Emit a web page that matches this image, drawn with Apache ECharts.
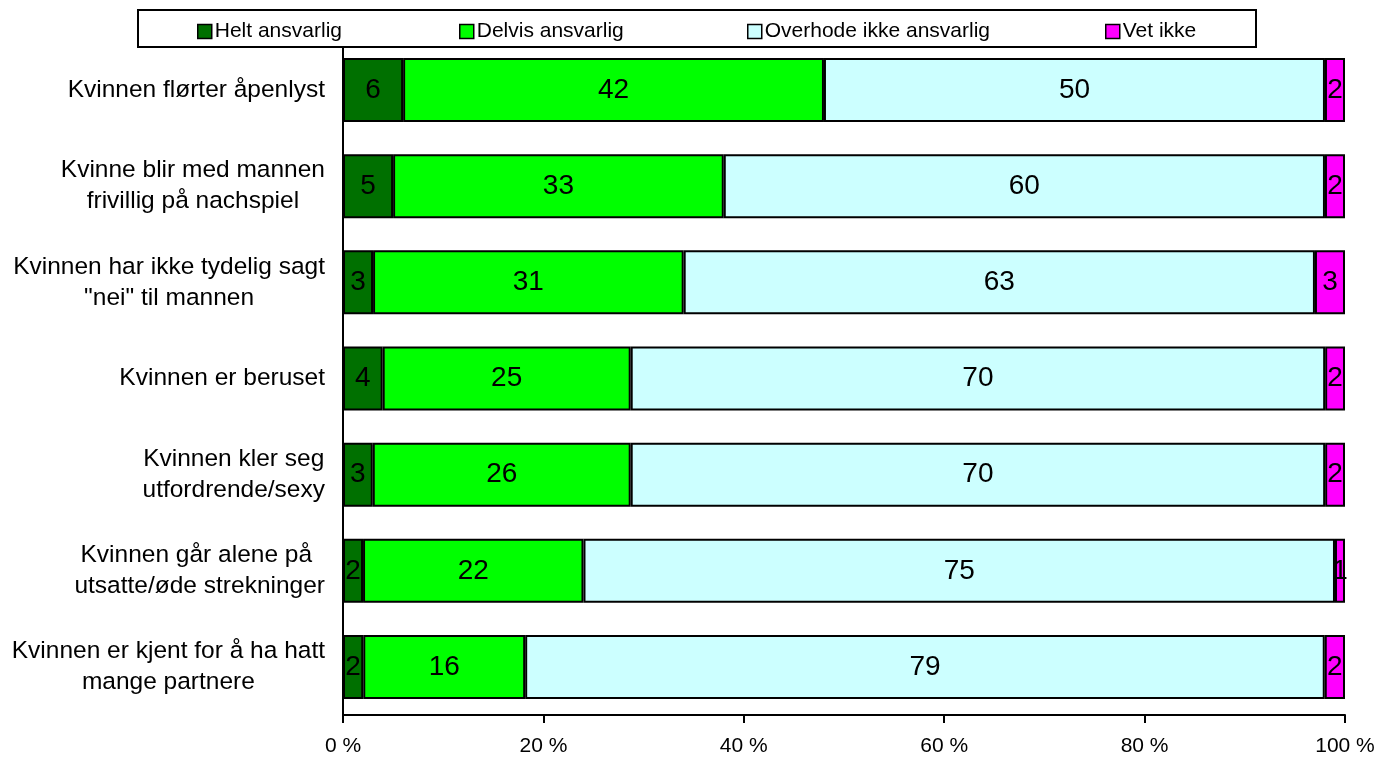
<!DOCTYPE html>
<html>
<head>
<meta charset="utf-8">
<script src="https://cdn.jsdelivr.net/npm/echarts@6/dist/echarts.min.js"></script>
<style>
html,body{margin:0;padding:0;background:#fff;}
#c{width:1380px;height:761px;}
</style>
</head>
<body>
<div id="c"></div>
<script>
const categories = [
  'Kvinnen flørter åpenlyst',
  'Kvinne blir med mannen\nfrivillig på nachspiel',
  'Kvinnen har ikke tydelig sagt\n"nei" til mannen',
  'Kvinnen er beruset',
  'Kvinnen kler seg\nutfordrende/sexy',
  'Kvinnen går alene på \nutsatte/øde strekninger',
  'Kvinnen er kjent for å ha hatt\nmange partnere'
];
const seriesNames = ['Helt ansvarlig', 'Delvis ansvarlig', 'Overhode ikke ansvarlig', 'Vet ikke'];
const helt = [6, 5, 3, 4, 3, 2, 2];
const delvis = [42, 33, 31, 25, 26, 22, 16];
const overhode = [50, 60, 63, 70, 70, 75, 79];
const vetIkke = [2, 2, 3, 2, 2, 1, 2];
const xTicks = [0, 20, 40, 60, 80, 100];
const colors = ['#007000', '#00ff00', '#ccffff', '#ff00ff'];

const raw = [helt, delvis, overhode, vetIkke];
const totals = categories.map((_, i) => raw.reduce((s, arr) => s + arr[i], 0));

const chart = echarts.init(document.getElementById('c'), null, {renderer: 'canvas'});
const FONT = 'Liberation Sans, Arial, sans-serif';

const series = raw.map((arr, k) => ({
  name: seriesNames[k],
  type: 'bar',
  stack: 'total',
  barWidth: 64,
  itemStyle: {color: colors[k], borderColor: '#000', borderWidth: 2},
  label: {
    show: true,
    position: 'inside',
    color: '#000',
    fontFamily: FONT,
    fontSize: 28,
    formatter: p => String(arr[p.dataIndex])
  },
  emphasis: {disabled: true},
  data: arr.map((v, i) => v / totals[i] * 100)
}));

const legendLeft = [197, 459, 747, 1105];
const legends = seriesNames.map((n, k) => ({
  data: [n],
  left: legendLeft[k],
  top: 21,
  padding: 0,
  itemWidth: 14,
  itemHeight: 14,
  itemGap: 0,
  z: 20,
  selectedMode: false,
  icon: 'rect',
  itemStyle: {borderColor: '#000', borderWidth: 1.5},
  textStyle: {fontFamily: FONT, fontSize: 21, color: '#000', padding: [0, 0, 0, -2]}
}));

function labelRich(v) {
  return v.split('\n').map(s => '{c|' + s + '}').join('\n');
}

chart.setOption({
  animation: false,
  backgroundColor: '#fff',
  color: colors,
  legend: legends,
  graphic: [{
    type: 'rect',
    z: 10,
    shape: {x: 138, y: 10, width: 1118, height: 37},
    style: {fill: '#fff', stroke: '#000', lineWidth: 2}
  }],
  grid: {left: 343, right: 35, top: 42, bottom: 46, containLabel: false},
  xAxis: {
    type: 'value',
    min: 0,
    max: 100,
    interval: 20,
    axisLine: {show: true, lineStyle: {color: '#000', width: 2}},
    axisTick: {show: true, length: 8, lineStyle: {color: '#000', width: 2}},
    splitLine: {show: false},
    axisLabel: {
      formatter: '{value} %',
      color: '#000',
      fontFamily: FONT,
      fontSize: 21,
      margin: 21
    }
  },
  yAxis: {
    type: 'category',
    inverse: true,
    data: categories,
    axisLine: {show: true, lineStyle: {color: '#000', width: 2}},
    axisTick: {show: false},
    axisLabel: {
      color: '#000',
      fontFamily: FONT,
      fontSize: 24.5,
      margin: 18,
      lineHeight: 31,
      formatter: labelRich,
      rich: {c: {align: 'center', fontFamily: FONT, fontSize: 24.5, color: '#000', lineHeight: 31}}
    }
  },
  series: series
});
</script>
</body>
</html>
